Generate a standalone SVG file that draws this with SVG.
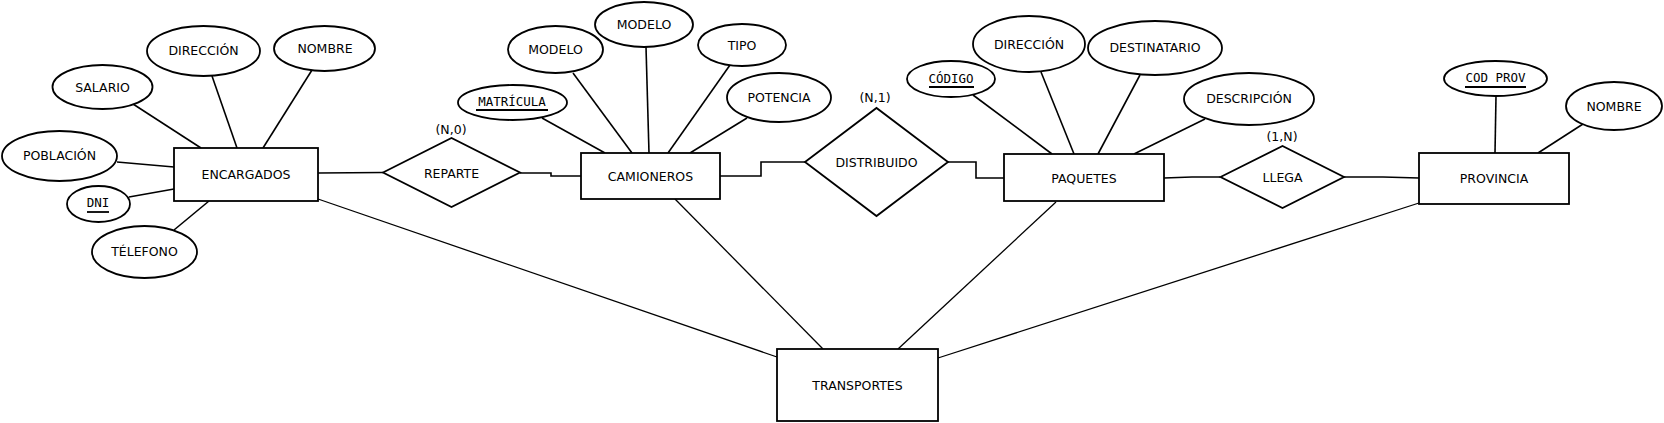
<svg xmlns="http://www.w3.org/2000/svg" width="1664" height="423" viewBox="0 0 1664 423">
<style>
.s{fill:#fff;stroke:#000;stroke-width:1.8}
.t{font-family:"DejaVu Sans",sans-serif;font-size:12.5px;fill:#000;text-anchor:middle;dominant-baseline:central}
.m{font-family:"DejaVu Sans Mono",monospace;font-size:12.5px;fill:#000;text-anchor:middle;dominant-baseline:central}
.u{stroke:#000;stroke-width:1.8}
#connectors line,#connectors polyline{fill:none;stroke:#000;stroke-width:1.6}
#connectors .th{stroke-width:1.3}
</style>
<rect width="1664" height="423" fill="#fff"/>
<g id="connectors">
<line x1="133" y1="104" x2="201" y2="148"/>
<line x1="212" y1="76" x2="237" y2="148"/>
<line x1="312" y1="70" x2="263" y2="148"/>
<line x1="117" y1="162" x2="174" y2="167"/>
<line x1="129" y1="197" x2="174" y2="189"/>
<line x1="174" y1="230" x2="209" y2="201"/>
<polyline points="318,173 383,172.5"/>
<polyline points="520,173 551,173 551,176 581,176"/>
<line x1="542" y1="118" x2="605" y2="153"/>
<line x1="573" y1="73" x2="632" y2="153"/>
<line x1="646" y1="47" x2="649" y2="153"/>
<line x1="730" y1="65" x2="668" y2="153"/>
<line x1="747" y1="118" x2="690" y2="153"/>
<polyline points="720,176 761,176 761,162 805,162"/>
<polyline points="948,162 976,162 976,178 1004,178"/>
<line x1="973" y1="95" x2="1052" y2="154"/>
<line x1="1041" y1="72" x2="1074" y2="154"/>
<line x1="1140" y1="75" x2="1098" y2="154"/>
<line x1="1205" y1="119" x2="1134" y2="154"/>
<polyline points="1164,178 1192,177 1220,177"/>
<polyline points="1344,177 1383,177 1419,178"/>
<line x1="1496" y1="96" x2="1495" y2="153"/>
<line x1="1583" y1="124" x2="1538" y2="153"/>
<line class="th" x1="318" y1="199" x2="777" y2="357"/>
<line class="th" x1="675" y1="199" x2="823" y2="349"/>
<line class="th" x1="1056" y1="202" x2="898" y2="349"/>
<line class="th" x1="1419" y1="203" x2="938" y2="358"/>
</g>
<g id="encargados"><rect class="s" x="174" y="148" width="144" height="53"/><text class="t" x="246" y="174">ENCARGADOS</text></g>
<g id="salario"><ellipse class="s" cx="102.5" cy="87" rx="50" ry="22"/><text class="t" x="102.5" y="87">SALARIO</text></g>
<g id="direccion1"><ellipse class="s" cx="203.5" cy="51" rx="56.5" ry="25"/><text class="t" x="203.5" y="50.5">DIRECCIÓN</text></g>
<g id="nombre1"><ellipse class="s" cx="324.5" cy="48.5" rx="50.5" ry="22.5"/><text class="t" x="325" y="48.5">NOMBRE</text></g>
<g id="poblacion"><ellipse class="s" cx="59.5" cy="156" rx="57.5" ry="25"/><text class="t" x="59.5" y="155">POBLACIÓN</text></g>
<g id="dni"><ellipse class="s" cx="98.5" cy="204" rx="31.5" ry="18"/><text class="m" x="98" y="202">DNI</text><line class="u" x1="87" y1="212" x2="109" y2="212"/></g>
<g id="telefono"><ellipse class="s" cx="144.5" cy="252" rx="52.5" ry="26"/><text class="t" x="144.5" y="251">TÉLEFONO</text></g>
<g id="reparte"><polygon class="s" points="383,172.5 451.5,138 520,172.5 451.5,207"/><text class="t" x="451.5" y="173">REPARTE</text></g>
<text class="t" x="451" y="129.5">(N,0)</text>
<g id="camioneros"><rect class="s" x="581" y="153" width="139" height="46"/><text class="t" x="650.5" y="176">CAMIONEROS</text></g>
<g id="matricula"><ellipse class="s" cx="512.5" cy="102.5" rx="54.5" ry="17.5"/><text class="m" x="512" y="101">MATRÍCULA</text><line class="u" x1="476" y1="110" x2="548" y2="110"/></g>
<g id="modelo1"><ellipse class="s" cx="555.5" cy="49.5" rx="47.5" ry="23.5"/><text class="t" x="555.5" y="49.5">MODELO</text></g>
<g id="modelo2"><ellipse class="s" cx="644" cy="24.5" rx="49" ry="22.5"/><text class="t" x="644" y="24.5">MODELO</text></g>
<g id="tipo"><ellipse class="s" cx="742" cy="45" rx="44" ry="21"/><text class="t" x="742" y="45">TIPO</text></g>
<g id="potencia"><ellipse class="s" cx="779" cy="97.5" rx="52" ry="24.5"/><text class="t" x="779" y="97">POTENCIA</text></g>
<g id="distribuido"><polygon class="s" points="805,162 876.5,108 948,162 876.5,216"/><text class="t" x="876.5" y="162">DISTRIBUIDO</text></g>
<text class="t" x="875" y="97">(N,1)</text>
<g id="paquetes"><rect class="s" x="1004" y="154" width="160" height="47"/><text class="t" x="1084" y="178">PAQUETES</text></g>
<g id="codigo"><ellipse class="s" cx="951" cy="79" rx="44" ry="18"/><text class="m" x="951" y="78">CÓDIGO</text><line class="u" x1="929" y1="87" x2="974" y2="87"/></g>
<g id="direccion2"><ellipse class="s" cx="1029" cy="44" rx="56" ry="28"/><text class="t" x="1029" y="44">DIRECCIÓN</text></g>
<g id="destinatario"><ellipse class="s" cx="1155" cy="48" rx="67" ry="27"/><text class="t" x="1155" y="47.5">DESTINATARIO</text></g>
<g id="descripcion"><ellipse class="s" cx="1249" cy="99" rx="65" ry="26"/><text class="t" x="1249" y="98.5">DESCRIPCIÓN</text></g>
<g id="llega"><polygon class="s" points="1220.5,177 1282.5,146 1344,177 1282.5,208"/><text class="t" x="1282.5" y="177">LLEGA</text></g>
<text class="t" x="1282" y="136">(1,N)</text>
<g id="provincia"><rect class="s" x="1419" y="153" width="150" height="51"/><text class="t" x="1494" y="178">PROVINCIA</text></g>
<g id="codprov"><ellipse class="s" cx="1495.5" cy="78.5" rx="51.5" ry="17.5"/><text class="m" x="1495.5" y="77.5">COD PROV</text><line class="u" x1="1465" y1="87" x2="1526" y2="87"/></g>
<g id="nombre2"><ellipse class="s" cx="1614" cy="106" rx="48" ry="24"/><text class="t" x="1614" y="106">NOMBRE</text></g>
<g id="transportes"><rect class="s" x="777" y="349" width="161" height="72"/><text class="t" x="857.5" y="385">TRANSPORTES</text></g>
</svg>
